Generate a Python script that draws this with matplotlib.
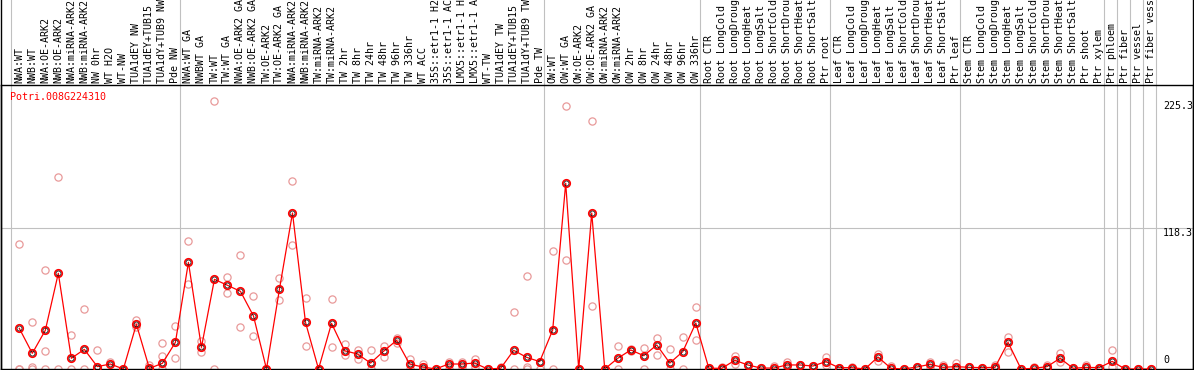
import matplotlib
matplotlib.use("Agg")
import matplotlib.pyplot as plt
from matplotlib.lines import Line2D

# sample labels, grouped (grey separators between groups)
groups = [
    ["NWA:WT", "NWB:WT", "NWA:OE-ARK2", "NWB:OE-ARK2", "NWA:miRNA-ARK2", "NWB:miRNA-ARK2",
     "NW 0hr", "WT H2O", "WT-NW", "TUA1dEY NW", "TUA1dEY+TUB15 NW", "TUA1dY+TUB9 NW", "Pde NW"],
    ["NWA:WT GA", "NWBWT GA", "TW:WT", "TW:WT GA", "NWA:OE-ARK2 GA", "NWB:OE-ARK2 GA",
     "TW:OE-ARK2", "TW:OE-ARK2 GA", "NWA:miRNA-ARK2", "NWB:miRNA-ARK2", "TW:miRNA-ARK2",
     "TW:miRNA-ARK2", "TW 2hr", "TW 8hr", "TW 24hr", "TW 48hr", "TW 96hr", "TW 336hr",
     "WT ACC", "35S::etr1-1 H2O", "35S::etr1-1 ACC", "LMX5::etr1-1 H2O", "LMX5::etr1-1 ACC",
     "WT-TW", "TUA1dEY TW", "TUA1dEY+TUB15 TW", "TUA1dY+TUB9 TW", "Pde TW"],
    ["OW:WT", "OW:WT GA", "OW:OE-ARK2", "OW:OE-ARK2 GA", "OW:miRNA-ARK2", "OW:miRNA-ARK2",
     "OW 2hr", "OW 8hr", "OW 24hr", "OW 48hr", "OW 96hr", "OW 336hr"],
    ["Root CTR", "Root LongCold", "Root LongDrought", "Root LongHeat", "Root LongSalt",
     "Root ShortCold", "Root ShortDrought", "Root ShortHeat", "Root ShortSalt", "Ptr root"],
    ["Leaf CTR", "Leaf LongCold", "Leaf LongDrought", "Leaf LongHeat", "Leaf LongSalt",
     "Leaf ShortCold", "Leaf ShortDrought", "Leaf ShortHeat", "Leaf ShortSalt", "Ptr leaf"],
    ["Stem CTR", "Stem LongCold", "Stem LongDrought", "Stem LongHeat", "Stem LongSalt",
     "Stem ShortCold", "Stem ShortDrought", "Stem ShortHeat", "Stem ShortSalt",
     "Ptr shoot", "Ptr xylem"],
    ["Ptr phloem"], ["Ptr fiber"], ["Ptr vessel"], ["Ptr fiber vessel"],
]

# mean expression per sample
means = [34.2, 13.2, 32.5, 80.5, 9.0, 16.5, 2.0, 4.2, 0, 37.6, 0.5, 4.8, 22.4,
         89.7, 18.2, 75.4, 70.4, 65.3, 44.6, 0, 67.3, 131.2, 39.2, 0, 38.4, 15.4, 12.6,
         5.0, 14.9, 24.1, 4.2, 1.7, 0, 4.2, 4.2, 5.0, 0, 0.6, 15.7, 9.8, 6.2,
         32.8, 156.2, 0, 131.2, 0, 9.0, 16.0, 11.2, 20.2, 5.0, 14.6, 38.7,
         0.6, 0.6, 7.3, 3.4, 0.8, 0.8, 3.4, 3.4, 2.5, 6.2,
         1.1, 1.1, 0, 10.1, 0.6, 0, 1.7, 3.9, 1.4, 2.0,
         1.4, 1.1, 1.4, 22.4, 0, 0.6, 2.0, 9.0, 0.6, 1.4, 1.1,
         6.4, 0, 0, 0]

# individual replicates per sample
reps = [[104.8, 0, 0], [39.2, 2, 0], [83, 14.9, 0], [161.2, 0], [28.6, 0], [50.2, 0],
        [16, 0], [5.6], [0], [41.2, 35.6], [3.4, 0], [21.6, 11.2, 0], [36.2, 9.0],
        [107.4, 71.2], [23.3, 14], [225.3, 0], [77.1, 63.6], [95.6, 35.3], [61.1, 27.8],
        [0], [76.5, 58], [157.8, 104], [59.4, 19.3], [0], [58.6, 18.2], [21.3, 11.8],
        [16, 8.4], [15.7, 0], [19.6, 9.8], [26.4, 21.6], [8.4, 0], [3.9, 0], [0],
        [5.6, 0], [6.2, 2], [8.4, 2], [0], [2, 0], [47.7, 0], [77.9, 2, 0], [6, 0],
        [99.2, 0], [220.9, 91.7], [0], [208.6, 53], [0], [19.3, 0], [17, 15], [17.4, 0],
        [26.4, 11.8], [16.5, 0], [26.6, 0], [51.9, 24.1],
        [0], [2, 0], [10.9, 3.9], [3.4], [0.8], [2.5], [5.6, 2], [3.4], [2.5], [10.4, 3],
        [1], [1.5], [0], [12.9, 7], [2.5], [0], [2], [5.6, 2], [3.4], [4.8, 0],
        [1.4], [1.1], [3.4, 0], [26.6, 14.6], [0], [2], [3.4, 1], [13.7, 6.2], [0.6],
        [3.4], [1.1], [15.7, 2], [0], [0], [0]]

gene = "Potri.008G224310"
ymax = 225.3
ymid = 118.3

labels = [s for g in groups for s in g]
bounds = [0]
for g in groups:
    bounds.append(bounds[-1] + len(g))

W, H = 1194, 370
fig = plt.figure(figsize=(W / 100, H / 100), dpi=100)
ax = fig.add_axes([1 / W, 1 / H, 1192 / W, 284 / H])
ax.set_xlim((1 - 10.7) / 13.01, (1193 - 10.7) / 13.01)
ax.set_ylim(0, ymax * 1.06)
ax.set_xticks([])
ax.set_yticks([])
for s in ax.spines.values():
    s.set_color("black")
    s.set_linewidth(1)

mono = "DejaVu Sans Mono"
fs = 7.2
off = 0.66
xs = [i + off for i in range(len(labels))]

# separators run through the label strip too
top_ext = 1 + 85 / 284
for b in bounds:
    ax.axvline(b, ymin=0, ymax=top_ext, color="#c0c0c0", lw=0.8, clip_on=False, zorder=1)
ax.axhline(ymid, color="#c0c0c0", lw=0.8, zorder=1)

# replicates
for x, r in zip(xs, reps):
    ax.plot([x] * len(r), r, "o", ms=5.2, mfc="none", mec="#e89a9a", mew=0.9, zorder=2)

ax.plot(xs, means, "-", color="red", lw=0.9, zorder=3)
ax.plot(xs, means, "o", ms=5.4, mfc="none", mec="red", mew=1.2, zorder=4)
ax.plot(xs, means, "o", ms=3.6, mfc="none", mec="black", mew=0.5, zorder=5)

# rotated sample labels above the plot
for x, lab in zip(xs, labels):
    ax.text(x, 1 + 2 / 284, lab, transform=ax.get_xaxis_transform(), rotation=90,
            ha="center", va="bottom", fontsize=fs, family=mono, clip_on=False)

# value labels on the right
xt = (1163 - 10.7) / 13.01
ax.text(xt, ymax, "225.3", ha="left", va="top", fontsize=fs, family=mono)
ax.text(xt, ymid, "118.3", ha="left", va="top", fontsize=fs, family=mono)
ax.text(xt, 3.0, "0", ha="left", va="bottom", fontsize=fs, family=mono)

ax.text(9 / 1192, 1 - 12 / 284, gene, transform=ax.transAxes, color="red",
        ha="left", va="center", fontsize=fs, family=mono)

# frame edges through the label strip
for px in (1, 1193):
    fig.add_artist(Line2D([px / W, px / W], [0, 1], color="black", lw=1,
                          transform=fig.transFigure))

fig.savefig("out.png", dpi=100)
